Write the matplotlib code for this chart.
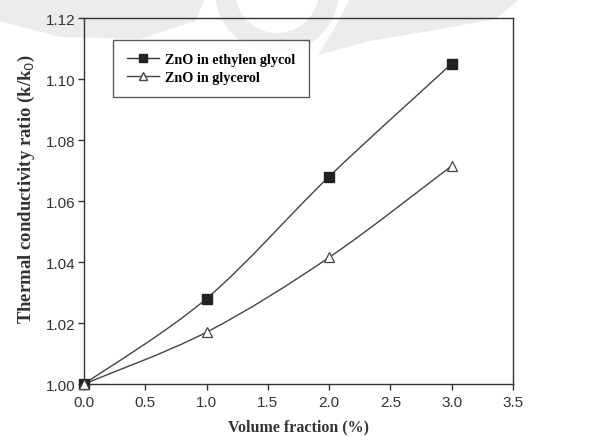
import numpy as np
import matplotlib
matplotlib.use("Agg")
import matplotlib.pyplot as plt
from matplotlib.path import Path
from matplotlib.patches import PathPatch, Wedge, Polygon

# Measured thermal conductivity ratios
volume_fraction = [0.0, 1.0, 2.0, 3.0]
ratio_ethylene_glycol = [1.000, 1.028, 1.068, 1.105]
ratio_glycerol = [1.000, 1.017, 1.0415, 1.0715]
series_labels = ["ZnO in ethylen glycol", "ZnO in glycerol"]
x_ticks = [0.0, 0.5, 1.0, 1.5, 2.0, 2.5, 3.0, 3.5]
y_ticks = [1.00, 1.02, 1.04, 1.06, 1.08, 1.10, 1.12]

serif = ["Liberation Serif", "DejaVu Serif"]
sans = ["Liberation Sans", "DejaVu Sans"]

fig = plt.figure(figsize=(6.07, 4.39), dpi=100)

# faint watermark emblem behind the plot (pixel-like coordinates)
bg = fig.add_axes([0, 0, 1, 1], zorder=-1)
bg.set_xlim(0, 607)
bg.set_ylim(439, 0)
bg.axis("off")
wm = "#ececec"
bg.add_patch(Wedge((277, -8), 62, 0, 180, width=20, color=wm, lw=0))
bg.add_patch(Polygon([[0, 0], [205, 0], [195, 22], [140, 40], [60, 38], [0, 22]],
                     closed=True, color=wm, lw=0))
bg.add_patch(Polygon([[350, 0], [520, 0], [495, 20], [430, 32], [370, 42],
                      [318, 56], [335, 28]], closed=True, color=wm, lw=0))

ax = fig.add_axes([0.1384, 0.123, 0.7066, 0.8337])
ax.patch.set_alpha(0.0)


def smooth_path(x, y):
    """Cubic Bezier path through the points (Catmull-Rom style tangents)."""
    x = np.asarray(x, float)
    y = np.asarray(y, float)
    verts = [(x[0], y[0])]
    codes = [Path.MOVETO]
    n = len(x)
    for i in range(n - 1):
        i0 = max(i - 1, 0)
        i3 = min(i + 2, n - 1)
        c1 = (x[i] + (x[i + 1] - x[i0]) / 6.0, y[i] + (y[i + 1] - y[i0]) / 6.0)
        c2 = (x[i + 1] - (x[i3] - x[i]) / 6.0, y[i + 1] - (y[i3] - y[i]) / 6.0)
        verts += [c1, c2, (x[i + 1], y[i + 1])]
        codes += [Path.CURVE4] * 3
    return Path(verts, codes)


for ys in (ratio_ethylene_glycol, ratio_glycerol):
    ax.add_patch(PathPatch(smooth_path(volume_fraction, ys), facecolor="none",
                           edgecolor="#444444", lw=1.0, zorder=2))

ax.plot(volume_fraction, ratio_ethylene_glycol, ls="none", marker="s", ms=6.5,
        mfc="#222222", mec="#222222", zorder=3, clip_on=False)
ax.plot(volume_fraction, ratio_glycerol, ls="none", marker="^", ms=6.5,
        mfc="white", mec="#444444", mew=0.9, zorder=3, clip_on=False)

# legend handles (line + marker)
h1, = ax.plot([], [], color="#333333", lw=1.0, marker="s", ms=6, mfc="#222222",
              mec="#222222")
h2, = ax.plot([], [], color="#444444", lw=1.0, marker="^", ms=6, mfc="white",
              mec="#444444")
leg = ax.legend([h1, h2], series_labels, loc="upper left",
                bbox_to_anchor=(0.068, 0.94), frameon=True, fancybox=False,
                prop={"family": serif, "weight": "bold", "size": 10.2},
                handlelength=2.3, borderpad=0.95, labelspacing=0.3,
                handletextpad=0.4, borderaxespad=0.0)
leg.get_frame().set_edgecolor("#333333")
leg.get_frame().set_linewidth(1.0)

ax.set_xlim(0.0, 3.5)
ax.set_ylim(1.00, 1.12)
ax.set_xticks(x_ticks)
ax.set_yticks(y_ticks)
ax.set_xticklabels([f"{v:.1f}" for v in x_ticks], family=sans, size=11,
                   color="#333333")
ax.set_yticklabels([f"{v:.2f}" for v in y_ticks], family=sans, size=11,
                   color="#333333")
ax.tick_params(direction="out", length=4, width=1.0, color="#333333")
ax.tick_params(axis="x", pad=4)
ax.tick_params(axis="y", pad=2)
for s in ax.spines.values():
    s.set_color("#333333")
    s.set_linewidth(1.0)

ax.set_xlabel("Volume fraction (%)", family=serif, weight="bold", size=11.5,
              color="#333333", labelpad=7)
ax.set_ylabel("Thermal conductivity ratio (k/k$_0$)", family=serif,
              weight="bold", size=13.5, color="#333333", labelpad=6)
ax.yaxis.set_label_coords(-0.11, 0.535)

fig.savefig("out.png", dpi=100)
